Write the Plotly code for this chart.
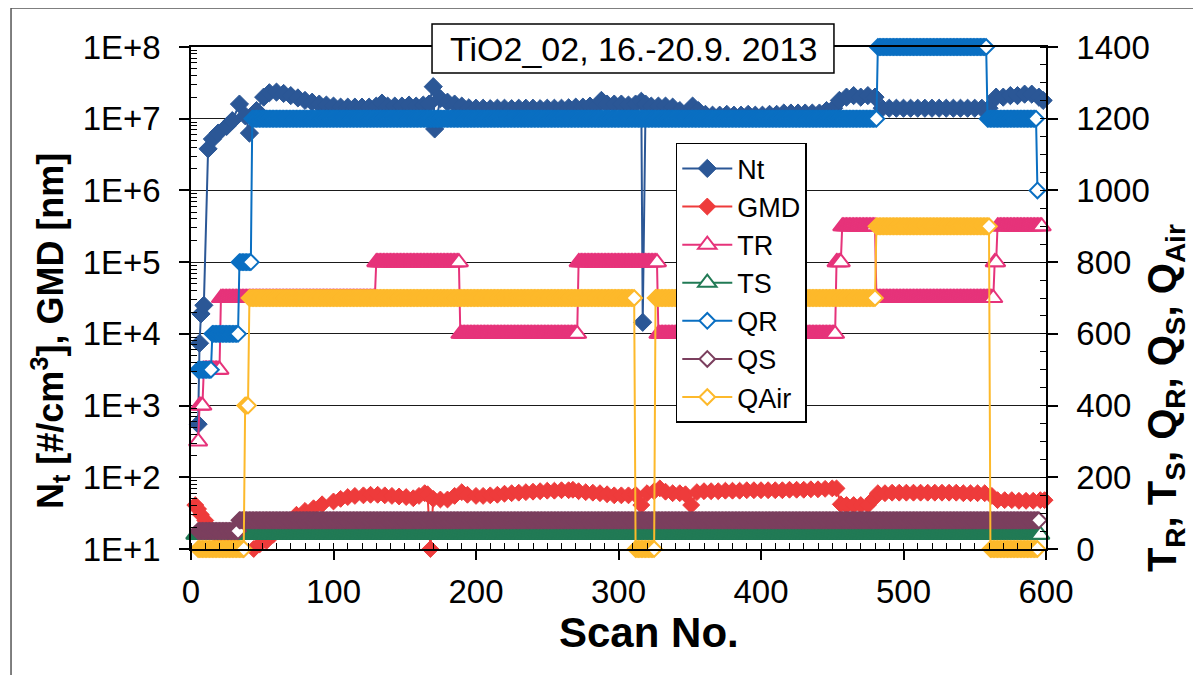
import plotly.graph_objects as go

# ---------------- data ----------------
# Nt [#/cm3] (left log axis)
nt_scan = [5, 6, 7, 9, 12, 15, 19, 25, 29, 34, 38, 41, 46, 51, 55, 60, 65, 70, 75, 80,
           85, 90, 95, 100, 105, 110, 115, 120, 125, 130, 134, 138, 143, 148, 153, 158, 163, 167, 170, 171,
           175, 180, 185, 190, 195, 200, 205, 210, 215, 220, 225, 230, 235, 240, 245, 250, 255, 260, 265, 270,
           275, 280, 285, 288, 292, 297, 302, 307, 312, 316, 317, 319, 323, 328, 333, 338, 343, 348, 352, 356,
           361, 366, 371, 376, 381, 386, 391, 396, 401, 406, 411, 416, 421, 426, 431, 436, 441, 446, 451, 455,
           460, 465, 470, 475, 480, 485, 490, 495, 500, 505, 510, 515, 520, 525, 530, 535, 540, 545, 550, 555,
           560, 565, 570, 575, 580, 585, 590, 595, 598]
nt_val = [5.5e2, 7.4e3, 1.9e4, 2.5e4, 3.8e6, 5.2e6, 6.3e6, 7.8e6, 9.4e6, 1.6e7, 1.1e7, 6.3e6, 1.3e7, 2.0e7, 2.3e7, 2.35e7, 2.25e7, 2.1e7, 1.95e7, 1.8e7,
          1.7e7, 1.6e7, 1.55e7, 1.5e7, 1.45e7, 1.45e7, 1.45e7, 1.45e7, 1.45e7, 1.5e7, 1.65e7, 1.5e7, 1.5e7, 1.5e7, 1.55e7, 1.5e7, 1.55e7, 1.6e7, 2.8e7, 7.2e6,
          1.9e7, 1.7e7, 1.6e7, 1.5e7, 1.42e7, 1.4e7, 1.4e7, 1.38e7, 1.4e7, 1.4e7, 1.38e7, 1.4e7, 1.4e7, 1.4e7, 1.38e7, 1.4e7, 1.4e7, 1.4e7, 1.42e7, 1.45e7,
          1.45e7, 1.5e7, 1.5e7, 1.8e7, 1.6e7, 1.6e7, 1.6e7, 1.55e7, 1.6e7, 1.75e7, 1.45e4, 1.6e7, 1.5e7, 1.5e7, 1.5e7, 1.45e7, 1.3e7, 1.07e7, 1.5e7, 1.3e7,
          1.15e7, 1.12e7, 1.12e7, 1.15e7, 1.12e7, 1.12e7, 1.15e7, 1.12e7, 1.12e7, 1.15e7, 1.15e7, 1.2e7, 1.2e7, 1.2e7, 1.2e7, 1.2e7, 1.2e7, 1.3e7, 1.4e7, 1.8e7,
          2.0e7, 2.1e7, 2.0e7, 2.1e7, 2.0e7, 1.4e7, 1.4e7, 1.4e7, 1.4e7, 1.4e7, 1.4e7, 1.4e7, 1.4e7, 1.4e7, 1.4e7, 1.4e7, 1.4e7, 1.4e7, 1.4e7, 1.4e7,
          1.4e7, 2.0e7, 2.0e7, 2.1e7, 2.1e7, 2.2e7, 2.2e7, 2.0e7, 1.8e7]

# GMD [nm] (left log axis)
gmd_scan = [3, 5, 7, 10, 13, 17, 22, 27, 32, 37, 40, 44, 48, 53, 58, 63, 68, 74, 80, 86,
            92, 100, 105, 110, 115, 121, 126, 131, 136, 141, 146, 151, 156, 160, 164, 166, 168, 170, 175, 180,
            185, 190, 194, 200, 205, 210, 215, 220, 225, 230, 235, 240, 245, 250, 255, 260, 265, 268, 272, 277,
            282, 287, 292, 297, 302, 307, 312, 316, 320, 325, 329, 333, 338, 343, 347, 351, 355, 360, 365, 370,
            375, 380, 385, 390, 395, 400, 405, 410, 415, 420, 425, 430, 435, 440, 445, 450, 453, 456, 460, 465,
            470, 475, 479, 482, 487, 492, 497, 502, 507, 512, 517, 522, 527, 532, 537, 542, 547, 552, 557, 562,
            566, 571, 576, 581, 586, 591, 596, 599]
gmd_val = [41, 36, 30, 25, 20, 16, 13, 12, 11, 10, 9.5, 10, 11.5, 13, 16, 20, 25, 30, 34, 37,
           42, 46, 50, 53, 55, 56, 57, 57, 56, 55, 54, 53, 51, 55, 60, 58, 10, 50, 49, 49,
           55, 62, 57, 55, 55, 56, 57, 59, 60, 61, 62, 63, 64, 65, 65, 66, 66, 67, 64, 62,
           61, 60, 58, 56, 56, 56, 57, 41, 60, 64, 70, 63, 60, 60, 58, 41, 62, 64, 64, 64,
           65, 65, 65, 66, 66, 66, 66, 66, 66, 67, 67, 67, 68, 68, 69, 70, 70, 42, 41, 41,
           41, 41, 50, 60, 60, 61, 61, 61, 61, 61, 61, 61, 61, 61, 61, 60, 60, 60, 60, 55,
           48, 48, 48, 47, 47, 47, 48, 48]

# Set-point series (right axis) as constant segments: first scan, last scan, value
tr_first = [5, 6, 9, 21, 130, 189, 272, 328, 453, 457, 481, 564, 566]
tr_last = [5, 8, 20, 129, 188, 271, 327, 452, 456, 480, 563, 565, 597]
tr_val = [300, 400, 500, 700, 800, 600, 800, 600, 800, 900, 700, 800, 900]

ts_first = [3]
ts_last = [596]
ts_val = [40]

qr_first = [5, 15, 34, 43, 482, 559, 594]
qr_last = [14, 33, 42, 481, 558, 593, 594]
qr_val = [500, 600, 800, 1200, 1400, 1200, 1000]

qs_first = [5, 34]
qs_last = [33, 595]
qs_val = [50, 80]

qair_first = [5, 38, 41, 312, 326, 481, 561]
qair_last = [37, 40, 311, 325, 480, 560, 594]
qair_val = [0, 400, 700, 0, 700, 900, 0]

left_tickvals = [1e1, 1e2, 1e3, 1e4, 1e5, 1e6, 1e7, 1e8]
left_ticktext = ["1E+1", "1E+2", "1E+3", "1E+4", "1E+5", "1E+6", "1E+7", "1E+8"]


def expand(first, last, val):
    xs, ys = [], []
    for a, b, v in zip(first, last, val):
        for k in range(a, b + 1):
            xs.append(k)
            ys.append(v)
    return xs, ys


# ---------------- styling ----------------
FONT = "Liberation Sans, Arial, sans-serif"
C_NT = "#2b5796"
C_GMD = "#ee3b3b"
C_TR = "#e6337a"
C_TS = "#217a55"
C_QR = "#0a6fc2"
C_QS = "#7b3f5e"
C_QAIR = "#fdb92b"

fig = go.Figure()

fig.add_trace(go.Scatter(x=nt_scan, y=nt_val, name="Nt", mode="lines+markers",
                         line=dict(color=C_NT, width=2),
                         marker=dict(symbol="diamond", size=14, color=C_NT, line=dict(color=C_NT, width=1)),
                         cliponaxis=False, yaxis="y"))
fig.add_trace(go.Scatter(x=gmd_scan, y=gmd_val, name="GMD", mode="lines+markers",
                         line=dict(color=C_GMD, width=2),
                         marker=dict(symbol="diamond", size=13, color=C_GMD, line=dict(color=C_GMD, width=1)),
                         cliponaxis=False, yaxis="y"))


def add_step(first, last, val, name, color, symbol, size):
    xs, ys = expand(first, last, val)
    fig.add_trace(go.Scatter(x=xs, y=ys, name=name, mode="lines+markers",
                             line=dict(color=color, width=2),
                             marker=dict(symbol=symbol, size=size, color="white",
                                         line=dict(color=color, width=2)),
                             cliponaxis=False, yaxis="y2"))


add_step(tr_first, tr_last, tr_val, "TR", C_TR, "triangle-up", 16)
add_step(ts_first, ts_last, ts_val, "TS", C_TS, "triangle-up", 16)
add_step(qr_first, qr_last, qr_val, "QR", C_QR, "diamond", 12)
add_step(qs_first, qs_last, qs_val, "QS", C_QS, "diamond", 12)
add_step(qair_first, qair_last, qair_val, "QAir", C_QAIR, "diamond", 12)

# left-axis minor ticks (2..9 per decade)
minor_left = [m * 10 ** d for d in range(1, 8) for m in range(2, 10)]

fig.update_layout(
    width=1193, height=667,
    margin=dict(l=183, r=155, t=39, b=126),
    paper_bgcolor="white", plot_bgcolor="white",
    font=dict(family=FONT, color="black", size=33),
    showlegend=True,
    legend=dict(x=0.567, y=0.809, xanchor="left", yanchor="top",
                bgcolor="white", bordercolor="black", borderwidth=1.5,
                font=dict(family=FONT, size=27, color="black"),
                itemwidth=50, tracegroupgap=0),
    xaxis=dict(range=[0, 600], dtick=100, tick0=0,
               showline=True, linecolor="black", linewidth=1.5, mirror=True,
               ticks="outside", ticklen=9, tickwidth=1.5, tickcolor="black",
               tickfont=dict(size=33), ticklabelstandoff=4,
               minor=dict(dtick=10, ticks="inside", ticklen=6, tickcolor="black", tickwidth=1),
               showgrid=False, zeroline=False),
    yaxis=dict(type="log", range=[1, 8],
               tickmode="array", tickvals=left_tickvals, ticktext=left_ticktext,
               showline=True, linecolor="black", linewidth=1.5,
               ticks="outside", ticklen=10, tickwidth=1.5, tickcolor="black",
               tickfont=dict(size=33), ticklabelstandoff=12,
               minor=dict(tickvals=minor_left, ticks="inside", ticklen=6, tickcolor="black", tickwidth=1),
               showgrid=True, gridcolor="#1a1a1a", gridwidth=1, zeroline=False),
    yaxis2=dict(range=[0, 1400], dtick=200, tick0=0, overlaying="y", side="right",
                showline=True, linecolor="black", linewidth=1.5,
                ticks="outside", ticklen=10, tickwidth=1.5, tickcolor="black",
                tickfont=dict(size=33), ticklabelstandoff=12,
                minor=dict(dtick=50, ticks="inside", ticklen=6, tickcolor="black", tickwidth=1),
                showgrid=False, zeroline=False),
)

# axis titles placed where the reference has them
fig.add_annotation(xref="paper", yref="paper", x=0.536, y=-0.167, showarrow=False,
                   text="<b>Scan No.</b>", font=dict(family=FONT, size=42, color="black"),
                   xanchor="center", yanchor="middle")
fig.add_annotation(xref="paper", yref="paper", x=-0.165, y=0.434, showarrow=False, textangle=-90,
                   text="<b>N<sub>t</sub> [#/cm<sup>3</sup>], GMD [nm]</b>",
                   font=dict(family=FONT, size=36, color="black"),
                   xanchor="center", yanchor="middle")
fig.add_annotation(xref="paper", yref="paper", x=1.140, y=0.30, showarrow=False, textangle=-90,
                   text="<b>T<sub>R</sub>, T<sub>S</sub>, Q<sub>R</sub>, Q<sub>S</sub>, Q<sub>Air</sub></b>",
                   font=dict(family=FONT, size=40, color="black"),
                   xanchor="center", yanchor="middle")

# title box
fig.add_shape(type="rect", xref="paper", yref="paper",
              x0=0.2819, x1=0.752, y0=0.948, y1=1.0458,
              line=dict(color="black", width=1.5), fillcolor="white", layer="above")
fig.add_annotation(xref="paper", yref="paper", x=0.517, y=0.997, showarrow=False,
                   text="TiO2_02, 16.-20.9. 2013", font=dict(family=FONT, size=34, color="black"),
                   xanchor="center", yanchor="middle")

# outer chart-area border (left and top edges visible in the scan)
fig.add_shape(type="line", xref="paper", yref="paper", x0=-0.2105, x1=-0.2105, y0=-0.26, y1=1.0777,
              line=dict(color="#555", width=1.5))
fig.add_shape(type="line", xref="paper", yref="paper", x0=-0.2105, x1=1.175, y0=1.0777, y1=1.0777,
              line=dict(color="#555", width=1.5))

fig.write_html("out.html")
